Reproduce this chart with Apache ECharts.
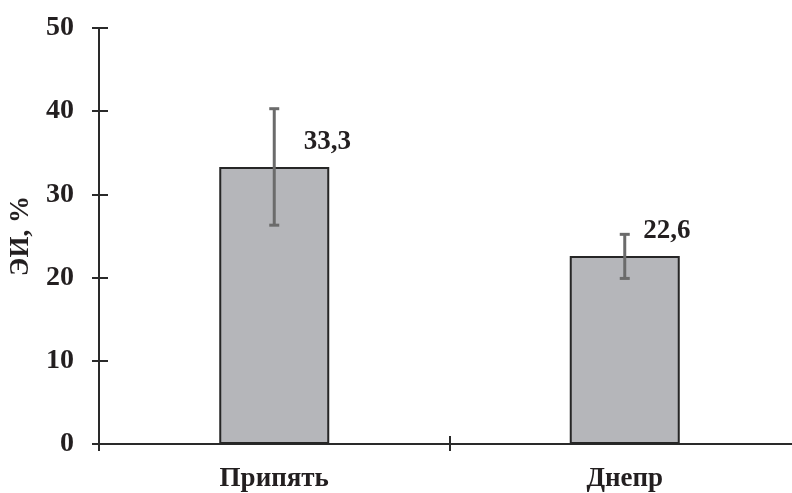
<!DOCTYPE html>
<html>
<head>
<meta charset="utf-8">
<script src="https://cdn.jsdelivr.net/npm/echarts@6/dist/echarts.min.js"></script>
<style>html,body{margin:0;padding:0;background:#fff;overflow:hidden;width:792px;height:493px}#c{width:800px;height:493px}</style>
</head>
<body>
<div id="c"></div>
<script>
const categories = ['Припять', 'Днепр'];
const values = [33.3, 22.6];
const errLow = [26.3, 19.9];
const errHigh = [40.3, 25.2];
const yTicks = [0, 10, 20, 30, 40, 50];
const yName = 'ЭИ, %';

const FONT = '"Liberation Serif", "Times New Roman", serif';
const TXT = '#231f20';
const labelOffsets = [[53, -6], [42, -6]];

const chart = echarts.init(document.getElementById('c'), null, {renderer: 'canvas'});
const yMin = yTicks[0], yMax = yTicks[yTicks.length - 1], yInt = yTicks[1] - yTicks[0];

chart.setOption({
  animation: false,
  backgroundColor: '#fff',
  grid: {left: 96, right: 0, top: 28, bottom: 47, containLabel: false},
  xAxis: [{
    type: 'category', data: categories, position: 'bottom',
    axisLine: {lineStyle: {color: '#2a2a2a', width: 2}},
    axisTick: {show: true, length: 7, lineStyle: {color: '#2a2a2a', width: 2}},
    axisLabel: {color: TXT, fontFamily: FONT, fontWeight: 'bold', fontSize: 27, margin: 22},
    splitLine: {show: false}
  }, {
    type: 'category', data: categories, position: 'bottom',
    axisLine: {show: false},
    axisTick: {show: true, inside: true, length: 8, lineStyle: {color: '#2a2a2a', width: 2}},
    axisLabel: {show: false}, splitLine: {show: false}
  }],
  yAxis: [{
    type: 'value', min: yMin, max: yMax, interval: yInt,
    name: yName, nameLocation: 'middle', nameGap: 64, nameRotate: 90,
    nameTextStyle: {color: TXT, fontFamily: FONT, fontWeight: 'bold', fontSize: 27},
    axisLine: {show: true, lineStyle: {color: '#2a2a2a', width: 2}},
    axisTick: {show: true, length: 7, lineStyle: {color: '#2a2a2a', width: 2}},
    axisLabel: {color: TXT, fontFamily: FONT, fontWeight: 'bold', fontSize: 28, margin: 25},
    splitLine: {show: false}
  }, {
    type: 'value', min: yMin, max: yMax, interval: yInt, position: 'left',
    axisLine: {show: false},
    axisTick: {show: true, inside: true, length: 9, lineStyle: {color: '#2a2a2a', width: 2}},
    axisLabel: {show: false}, splitLine: {show: false}
  }],
  series: [{
    type: 'bar',
    barWidth: 110,
    data: values.map((v, i) => ({
      value: v,
      label: {offset: labelOffsets[i]}
    })),
    itemStyle: {color: '#b5b6ba', borderColor: '#262626', borderWidth: 2},
    label: {
      show: true, position: 'top', distance: 5,
      color: TXT, fontFamily: FONT, fontWeight: 'bold', fontSize: 27,
      formatter: p => String(p.value).replace('.', ',')
    },
    z: 2
  }, {
    type: 'custom',
    data: categories.map((c, i) => [i, errLow[i], errHigh[i]]),
    encode: {x: 0, y: [1, 2]},
    renderItem: function (params, api) {
      const x = api.value(0);
      const lo = api.coord([x, api.value(1)]);
      const hi = api.coord([x, api.value(2)]);
      const hw = 5;
      const st = {stroke: '#6b6b6b', lineWidth: 3};
      return {
        type: 'group',
        children: [
          {type: 'line', shape: {x1: lo[0], y1: lo[1], x2: hi[0], y2: hi[1]}, style: st},
          {type: 'line', shape: {x1: lo[0] - hw, y1: lo[1], x2: lo[0] + hw, y2: lo[1]}, style: st},
          {type: 'line', shape: {x1: hi[0] - hw, y1: hi[1], x2: hi[0] + hw, y2: hi[1]}, style: st}
        ]
      };
    },
    z: 3
  }]
});
</script>
</body>
</html>
